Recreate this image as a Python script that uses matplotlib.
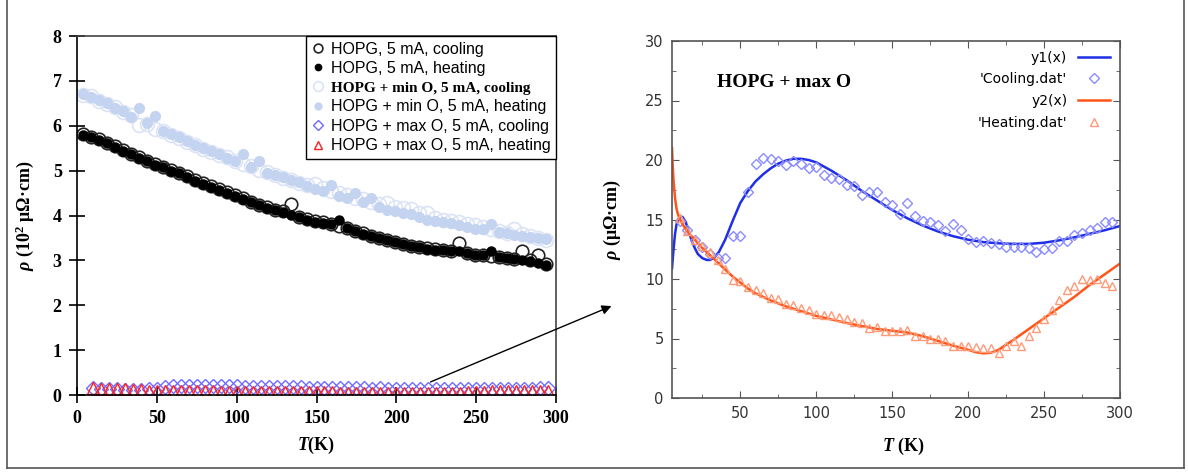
import numpy as np
import matplotlib.pyplot as plt
from matplotlib.lines import Line2D
from matplotlib.ticker import MultipleLocator

plt.rcParams["mathtext.fontset"] = "custom"
plt.rcParams["mathtext.rm"] = "Liberation Serif:bold"
plt.rcParams["mathtext.it"] = "Liberation Serif:italic:bold"
plt.rcParams["mathtext.bf"] = "Liberation Serif:bold"

# ---- left panel: resistivity in units of 10^2 uOhm cm ----
T_left = [4, 9, 14, 19, 24, 29, 34, 39, 44, 49, 54, 59, 64, 69, 74, 79, 84, 89, 94, 99,
          104, 109, 114, 119, 124, 129, 134, 139, 144, 149, 154, 159, 164, 169, 174, 179,
          184, 189, 194, 199, 204, 209, 214, 219, 224, 229, 234, 239, 244, 249, 254, 259,
          264, 269, 274, 279, 284, 289, 294]

hopg_cool = [5.82, 5.76, 5.70, 5.62, 5.54, 5.46, 5.38, 5.30, 5.22, 5.15, 5.08, 5.01, 4.95,
             4.87, 4.79, 4.72, 4.65, 4.58, 4.52, 4.45, 4.38, 4.31, 4.24, 4.18, 4.13, 4.09,
             4.25, 3.97, 3.92, 3.87, 3.85, 3.80, 3.76, 3.73, 3.66, 3.60, 3.55, 3.50, 3.46,
             3.42, 3.37, 3.33, 3.30, 3.27, 3.25, 3.23, 3.21, 3.38, 3.17, 3.13, 3.12, 3.10,
             3.07, 3.05, 3.04, 3.20, 3.00, 3.12, 2.92]
hopg_heat = [5.79, 5.75, 5.69, 5.61, 5.53, 5.44, 5.37, 5.29, 5.22, 5.13, 5.07, 5.00, 4.94,
             4.86, 4.77, 4.71, 4.64, 4.57, 4.51, 4.43, 4.37, 4.30, 4.23, 4.16, 4.12, 4.08,
             4.01, 3.96, 3.91, 3.86, 3.84, 3.82, 3.90, 3.72, 3.65, 3.59, 3.54, 3.50, 3.45,
             3.41, 3.36, 3.32, 3.29, 3.26, 3.24, 3.23, 3.21, 3.20, 3.16, 3.12, 3.11, 3.22,
             3.07, 3.05, 3.04, 3.01, 2.98, 2.95, 2.89]
minO_cool = [6.68, 6.66, 6.55, 6.48, 6.42, 6.30, 6.25, 6.02, 6.05, 5.92, 5.88, 5.80, 5.72,
             5.64, 5.58, 5.48, 5.42, 5.35, 5.30, 5.22, 5.15, 5.10, 5.02, 4.96, 4.90, 4.83,
             4.78, 4.72, 4.68, 4.70, 4.62, 4.55, 4.50, 4.45, 4.38, 4.36, 4.30, 4.25, 4.27,
             4.20, 4.16, 4.15, 4.05, 4.05, 3.95, 3.90, 3.88, 3.85, 3.82, 3.78, 3.74, 3.70,
             3.66, 3.62, 3.71, 3.58, 3.55, 3.50, 3.45]
minO_heat = [6.70, 6.64, 6.57, 6.50, 6.40, 6.33, 6.20, 6.39, 6.07, 6.21, 5.89, 5.81, 5.74,
             5.66, 5.57, 5.50, 5.43, 5.37, 5.29, 5.22, 5.37, 5.08, 5.22, 4.95, 4.91, 4.85,
             4.79, 4.74, 4.65, 4.58, 4.55, 4.68, 4.43, 4.38, 4.51, 4.30, 4.40, 4.18, 4.13,
             4.10, 4.06, 4.03, 3.96, 3.91, 3.88, 3.85, 3.84, 3.79, 3.75, 3.71, 3.69, 3.81,
             3.64, 3.60, 3.57, 3.54, 3.53, 3.50, 3.47]

# ---- right panel: HOPG + max O, uOhm cm ----
T_right = [10, 15, 20, 25, 30, 35, 40, 45, 50, 55, 60, 65, 70, 75, 80, 85, 90, 95, 100,
           105, 110, 115, 120, 125, 130, 135, 140, 145, 150, 155, 160, 165, 170, 175, 180,
           185, 190, 195, 200, 205, 210, 215, 220, 225, 230, 235, 240, 245, 250, 255, 260,
           265, 270, 275, 280, 285, 290, 295]
maxO_cool = [14.9, 14.1, 13.3, 12.7, 12.1, 11.8, 11.8, 13.6, 13.6, 17.3,
             19.7, 20.2, 20.1, 19.9, 19.6, 19.9, 19.7, 19.3, 19.4, 18.7,
             18.5, 18.4, 17.9, 17.8, 17.1, 17.3, 17.3, 16.5, 16.2, 15.5,
             16.4, 15.3, 14.9, 14.8, 14.5, 14.0, 14.6, 14.1, 13.4, 13.1,
             13.2, 13.0, 12.9, 12.7, 12.7, 12.7, 12.6, 12.3, 12.5, 12.6,
             13.2, 13.2, 13.7, 13.9, 14.1, 14.3, 14.8, 14.8]
maxO_heat = [15.1, 14.0, 13.3, 12.8, 12.3, 11.6, 10.8, 9.9, 9.8, 9.3,
             9.1, 8.8, 8.4, 8.3, 7.9, 7.8, 7.6, 7.4, 7.1, 7.0,
             7.0, 6.8, 6.6, 6.4, 6.3, 5.9, 6.0, 5.6, 5.6, 5.6,
             5.7, 5.2, 5.2, 5.0, 5.0, 4.8, 4.4, 4.4, 4.4, 4.3,
             4.2, 4.2, 3.8, 4.4, 4.8, 4.4, 5.2, 5.9, 6.6, 7.4,
             8.2, 9.1, 9.4, 10.0, 9.9, 10.0, 9.7, 9.4]

# fitted curves
T_fit1 = [5, 6, 7, 8, 9, 10, 11, 12, 14, 16, 18, 20, 22, 25, 28, 30, 33, 36, 40, 45, 50,
          55, 60, 65, 70, 75, 80, 85, 90, 95, 100, 110, 120, 130, 140, 150, 160, 170, 180,
          190, 200, 210, 220, 230, 240, 250, 260, 270, 280, 290, 300]
y1_fit = [10.9, 12.5, 13.8, 14.6, 15.0, 15.2, 15.25, 15.2, 14.8, 14.0, 13.2, 12.6, 12.1,
          11.75, 11.6, 11.6, 11.8, 12.3, 13.3, 14.9, 16.4, 17.4, 18.2, 18.8, 19.3, 19.7,
          19.95, 20.1, 20.1, 20.0, 19.8, 19.1, 18.3, 17.4, 16.6, 15.8, 15.1, 14.5, 14.0,
          13.6, 13.3, 13.1, 13.0, 12.95, 12.95, 13.05, 13.25, 13.5, 13.8, 14.1, 14.45]
T_fit2 = [5, 5.5, 6, 7, 8, 9, 10, 12, 15, 20, 25, 30, 35, 40, 45, 50, 55, 60, 70, 80, 90,
          100, 110, 120, 130, 140, 150, 160, 170, 180, 190, 200, 205, 210, 215, 220, 230,
          240, 250, 260, 270, 280, 290, 300]
y2_fit = [21.0, 19.5, 18.3, 16.8, 15.9, 15.4, 15.1, 14.6, 14.0, 13.3, 12.6, 12.0, 11.4,
          10.8, 10.2, 9.7, 9.2, 8.8, 8.2, 7.7, 7.3, 6.9, 6.6, 6.3, 6.05, 5.8, 5.65, 5.5,
          5.2, 4.8, 4.4, 4.05, 3.85, 3.75, 3.8, 4.05, 4.9, 5.8, 6.7, 7.6, 8.5, 9.5, 10.4,
          11.3]

W, H = 1188, 474
fig = plt.figure(figsize=(W / 100, H / 100), dpi=100)
ax1 = fig.add_axes([77 / W, 1 - 395 / H, 479 / W, 359 / H])
ax2 = fig.add_axes([672 / W, 1 - 398 / H, 448 / W, 357 / H])

# outer frame of the composite figure
fc = "#555555"
fig.add_artist(Line2D([7 / W, 7 / W], [1, 1 - 468 / H], color=fc, lw=1.2))
fig.add_artist(Line2D([7 / W, 1184 / W], [1 - 468 / H, 1 - 468 / H], color=fc, lw=1.2))
fig.add_artist(Line2D([1184 / W, 1184 / W], [1 - 468 / H, 1], color=fc, lw=1.2))

# ---------------- left panel ----------------
h3, = ax1.plot(T_left, minO_cool, ls="none", marker="o", ms=10, mfc="none",
               mec="#dbe3f5", mew=1.2)
h4, = ax1.plot(T_left, minO_heat, ls="none", marker="o", ms=7, mfc="#c4d3ef",
               mec="#c4d3ef")
h1, = ax1.plot(T_left, hopg_cool, ls="none", marker="o", ms=9, mfc="none",
               mec="#222222", mew=1.2)
h2, = ax1.plot(T_left, hopg_heat, ls="none", marker="o", ms=6.5, mfc="black",
               mec="black")
h5, = ax1.plot(T_right, np.array(maxO_cool) / 100, ls="none", marker="D", ms=7,
               mfc="none", mec="#6f6aff", mew=1)
h6, = ax1.plot(T_right, np.array(maxO_heat) / 100, ls="none", marker="^", ms=9,
               mfc="none", mec="#ff2020", mew=1)

ax1.set_xlim(0, 300)
ax1.set_ylim(0, 8)
ax1.set_xticks(range(0, 301, 50))
ax1.set_yticks(range(0, 9))
ax1.tick_params(direction="inout", length=12, width=1.2, labelsize=13, pad=5)
for lbl in ax1.get_xticklabels() + ax1.get_yticklabels():
    lbl.set_fontfamily("Liberation Serif")
    lbl.set_fontweight("bold")
for sp in ax1.spines.values():
    sp.set_linewidth(1.2)
ax1.spines["top"].set_color("#444444")
ax1.spines["right"].set_color("#444444")

ax1.set_xlabel(r"$T$(K)", fontsize=13, fontfamily="Liberation Serif", fontweight="bold")
ax1.set_ylabel(r"$\rho$ (10$^2$ μΩ·cm)", fontsize=13, fontfamily="Liberation Serif",
               fontweight="bold")
ax1.xaxis.set_label_coords(0.5, -0.11)
ax1.yaxis.set_label_coords(-0.085, 0.5)

leg = ax1.legend(
    [h1, h2, h3, h4, h5, h6],
    ["HOPG, 5 mA, cooling", "HOPG, 5 mA, heating", "HOPG + min O, 5 mA, cooling",
     "HOPG + min O, 5 mA, heating", "HOPG + max O, 5 mA, cooling",
     "HOPG + max O, 5 mA, heating"],
    loc="upper right", borderaxespad=0, fancybox=False, edgecolor="black",
    framealpha=1, handlelength=0.8, handletextpad=0.4, labelspacing=0.28,
    borderpad=0.35, markerscale=0.7, prop={"family": "Liberation Sans", "size": 11.5},
)
leg.get_frame().set_linewidth(1.0)
t3 = leg.get_texts()[2]
t3.set_fontfamily("Liberation Serif")
t3.set_fontweight("bold")
t3.set_fontsize(11)

# ---------------- right panel ----------------
ax2.plot(T_fit1, y1_fit, color="#1f2fe6", lw=1.8, label="y1(x)")
ax2.plot(T_right, maxO_cool, ls="none", marker="D", ms=5, mfc="none", mec="#8c8cff",
         mew=1, label="'Cooling.dat'")
ax2.plot(T_fit2, y2_fit, color="#ff5518", lw=1.8, label="y2(x)")
ax2.plot(T_right, maxO_heat, ls="none", marker="^", ms=5.5, mfc="none", mec="#ff9a78",
         mew=1, label="'Heating.dat'")

ax2.set_xlim(5, 300)
ax2.set_ylim(0, 30)
ax2.set_xticks(range(50, 301, 50))
ax2.xaxis.set_minor_locator(MultipleLocator(25))
ax2.yaxis.set_major_locator(MultipleLocator(5))
ax2.yaxis.set_minor_locator(MultipleLocator(2.5))
ax2.tick_params(which="both", direction="in", top=True, right=True, color="#555555",
                labelsize=10.5, labelcolor="#333333", pad=6)
ax2.tick_params(which="major", length=5)
ax2.tick_params(which="minor", length=3)
for sp in ax2.spines.values():
    sp.set_color("#555555")
    sp.set_linewidth(1.2)

ax2.set_xlabel(r"$T$ (K)", fontsize=13, fontfamily="Liberation Serif", fontweight="bold")
ax2.set_ylabel(r"$\rho$ (μΩ·cm)", fontsize=13, fontfamily="Liberation Serif",
               fontweight="bold")
ax2.xaxis.set_label_coords(0.516, -0.105)
ax2.yaxis.set_label_coords(-0.11, 0.5)

ax2.text(0.1, 0.885, "HOPG + max O", transform=ax2.transAxes, fontsize=14,
         fontfamily="Liberation Serif", fontweight="bold", va="center", ha="left")
ax2.legend(loc="upper right", frameon=False, markerfirst=False, fontsize=10,
           handlelength=2.3, labelspacing=0.55, borderaxespad=0.3)

# arrow linking the max-O curves to the zoomed panel
ax1.annotate("", xy=(614 / W, 1 - 305 / H), xytext=(428 / W, 1 - 383 / H),
             xycoords="figure fraction", textcoords="figure fraction",
             arrowprops=dict(arrowstyle="-|>", color="black", lw=1, mutation_scale=14),
             annotation_clip=False)

fig.savefig("out.png", dpi=100)
